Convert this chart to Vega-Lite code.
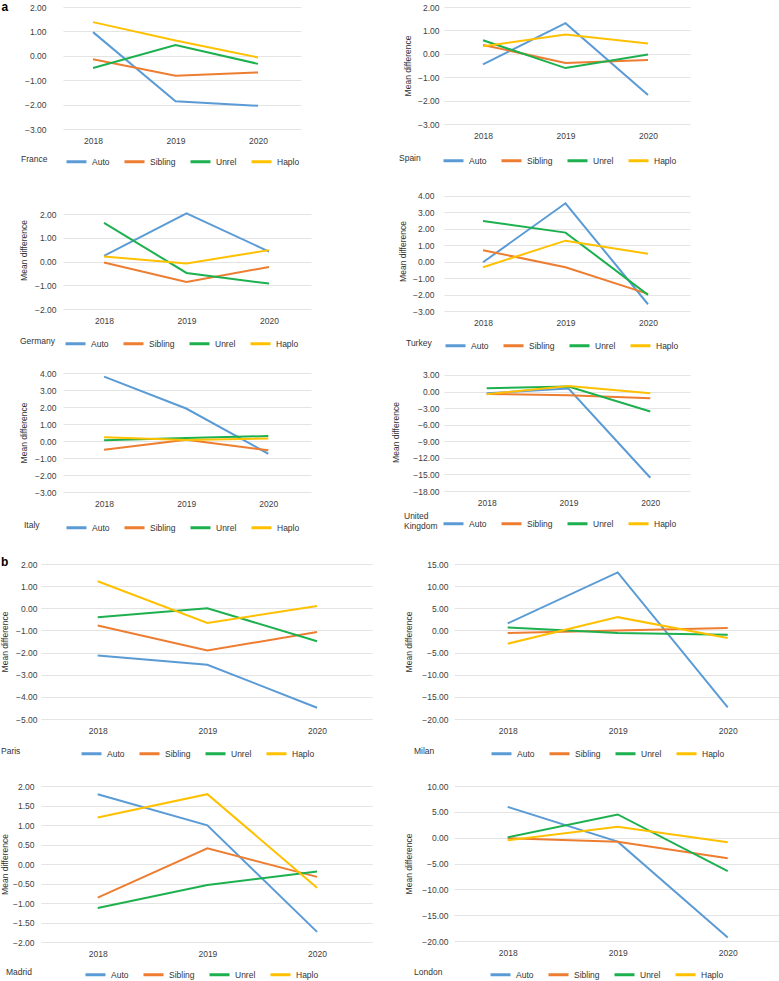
{
"$schema": "https://vega.github.io/schema/vega-lite/v6.json",
"padding": 0,
"data": {"name": "d"},
"datasets": {"d": [
{"p":"France","s":"Auto","yr":2018,"v":0.97},{"p":"France","s":"Auto","yr":2019,"v":-1.86},{"p":"France","s":"Auto","yr":2020,"v":-2.05},
{"p":"France","s":"Sibling","yr":2018,"v":-0.14},{"p":"France","s":"Sibling","yr":2019,"v":-0.82},{"p":"France","s":"Sibling","yr":2020,"v":-0.68},
{"p":"France","s":"Unrel","yr":2018,"v":-0.5},{"p":"France","s":"Unrel","yr":2019,"v":0.44},{"p":"France","s":"Unrel","yr":2020,"v":-0.33},
{"p":"France","s":"Haplo","yr":2018,"v":1.38},{"p":"France","s":"Haplo","yr":2019,"v":0.63},{"p":"France","s":"Haplo","yr":2020,"v":-0.07},
{"p":"Spain","s":"Auto","yr":2018,"v":-0.45},{"p":"Spain","s":"Auto","yr":2019,"v":1.31},{"p":"Spain","s":"Auto","yr":2020,"v":-1.76},
{"p":"Spain","s":"Sibling","yr":2018,"v":0.38},{"p":"Spain","s":"Sibling","yr":2019,"v":-0.39},{"p":"Spain","s":"Sibling","yr":2020,"v":-0.27},
{"p":"Spain","s":"Unrel","yr":2018,"v":0.58},{"p":"Spain","s":"Unrel","yr":2019,"v":-0.61},{"p":"Spain","s":"Unrel","yr":2020,"v":-0.03},
{"p":"Spain","s":"Haplo","yr":2018,"v":0.32},{"p":"Spain","s":"Haplo","yr":2019,"v":0.82},{"p":"Spain","s":"Haplo","yr":2020,"v":0.44},
{"p":"Germany","s":"Auto","yr":2018,"v":0.24},{"p":"Germany","s":"Auto","yr":2019,"v":2.03},{"p":"Germany","s":"Auto","yr":2020,"v":0.42},
{"p":"Germany","s":"Sibling","yr":2018,"v":-0.04},{"p":"Germany","s":"Sibling","yr":2019,"v":-0.86},{"p":"Germany","s":"Sibling","yr":2020,"v":-0.23},
{"p":"Germany","s":"Unrel","yr":2018,"v":1.63},{"p":"Germany","s":"Unrel","yr":2019,"v":-0.48},{"p":"Germany","s":"Unrel","yr":2020,"v":-0.93},
{"p":"Germany","s":"Haplo","yr":2018,"v":0.21},{"p":"Germany","s":"Haplo","yr":2019,"v":-0.08},{"p":"Germany","s":"Haplo","yr":2020,"v":0.48},
{"p":"Turkey","s":"Auto","yr":2018,"v":-0.04},{"p":"Turkey","s":"Auto","yr":2019,"v":3.54},{"p":"Turkey","s":"Auto","yr":2020,"v":-2.59},
{"p":"Turkey","s":"Sibling","yr":2018,"v":0.69},{"p":"Turkey","s":"Sibling","yr":2019,"v":-0.34},{"p":"Turkey","s":"Sibling","yr":2020,"v":-1.96},
{"p":"Turkey","s":"Unrel","yr":2018,"v":2.46},{"p":"Turkey","s":"Unrel","yr":2019,"v":1.76},{"p":"Turkey","s":"Unrel","yr":2020,"v":-2.02},
{"p":"Turkey","s":"Haplo","yr":2018,"v":-0.34},{"p":"Turkey","s":"Haplo","yr":2019,"v":1.27},{"p":"Turkey","s":"Haplo","yr":2020,"v":0.48},
{"p":"Italy","s":"Auto","yr":2018,"v":3.79},{"p":"Italy","s":"Auto","yr":2019,"v":1.91},{"p":"Italy","s":"Auto","yr":2020,"v":-0.75},
{"p":"Italy","s":"Sibling","yr":2018,"v":-0.51},{"p":"Italy","s":"Sibling","yr":2019,"v":0.08},{"p":"Italy","s":"Sibling","yr":2020,"v":-0.55},
{"p":"Italy","s":"Unrel","yr":2018,"v":0.04},{"p":"Italy","s":"Unrel","yr":2019,"v":0.18},{"p":"Italy","s":"Unrel","yr":2020,"v":0.29},
{"p":"Italy","s":"Haplo","yr":2018,"v":0.22},{"p":"Italy","s":"Haplo","yr":2019,"v":0.06},{"p":"Italy","s":"Haplo","yr":2020,"v":0.14},
{"p":"UK","s":"Auto","yr":2018,"v":-0.3},{"p":"UK","s":"Auto","yr":2019,"v":0.54},{"p":"UK","s":"Auto","yr":2020,"v":-15.6},
{"p":"UK","s":"Sibling","yr":2018,"v":-0.42},{"p":"UK","s":"Sibling","yr":2019,"v":-0.66},{"p":"UK","s":"Sibling","yr":2020,"v":-1.2},
{"p":"UK","s":"Unrel","yr":2018,"v":0.6},{"p":"UK","s":"Unrel","yr":2019,"v":0.9},{"p":"UK","s":"Unrel","yr":2020,"v":-3.6},
{"p":"UK","s":"Haplo","yr":2018,"v":-0.48},{"p":"UK","s":"Haplo","yr":2019,"v":1.02},{"p":"UK","s":"Haplo","yr":2020,"v":-0.3},
{"p":"Paris","s":"Auto","yr":2018,"v":-2.13},{"p":"Paris","s":"Auto","yr":2019,"v":-2.55},{"p":"Paris","s":"Auto","yr":2020,"v":-4.49},
{"p":"Paris","s":"Sibling","yr":2018,"v":-0.78},{"p":"Paris","s":"Sibling","yr":2019,"v":-1.91},{"p":"Paris","s":"Sibling","yr":2020,"v":-1.07},
{"p":"Paris","s":"Unrel","yr":2018,"v":-0.41},{"p":"Paris","s":"Unrel","yr":2019,"v":0.0},{"p":"Paris","s":"Unrel","yr":2020,"v":-1.49},
{"p":"Paris","s":"Haplo","yr":2018,"v":1.22},{"p":"Paris","s":"Haplo","yr":2019,"v":-0.66},{"p":"Paris","s":"Haplo","yr":2020,"v":0.1},
{"p":"Milan","s":"Auto","yr":2018,"v":1.58},{"p":"Milan","s":"Auto","yr":2019,"v":13.1},{"p":"Milan","s":"Auto","yr":2020,"v":-17.4},
{"p":"Milan","s":"Sibling","yr":2018,"v":-0.6},{"p":"Milan","s":"Sibling","yr":2019,"v":0.0},{"p":"Milan","s":"Sibling","yr":2020,"v":0.53},
{"p":"Milan","s":"Unrel","yr":2018,"v":0.68},{"p":"Milan","s":"Unrel","yr":2019,"v":-0.6},{"p":"Milan","s":"Unrel","yr":2020,"v":-0.98},
{"p":"Milan","s":"Haplo","yr":2018,"v":-3.0},{"p":"Milan","s":"Haplo","yr":2019,"v":3.0},{"p":"Milan","s":"Haplo","yr":2020,"v":-1.73},
{"p":"Madrid","s":"Auto","yr":2018,"v":1.79},{"p":"Madrid","s":"Auto","yr":2019,"v":0.99},{"p":"Madrid","s":"Auto","yr":2020,"v":-1.74},
{"p":"Madrid","s":"Sibling","yr":2018,"v":-0.86},{"p":"Madrid","s":"Sibling","yr":2019,"v":0.4},{"p":"Madrid","s":"Sibling","yr":2020,"v":-0.33},
{"p":"Madrid","s":"Unrel","yr":2018,"v":-1.13},{"p":"Madrid","s":"Unrel","yr":2019,"v":-0.54},{"p":"Madrid","s":"Unrel","yr":2020,"v":-0.19},
{"p":"Madrid","s":"Haplo","yr":2018,"v":1.19},{"p":"Madrid","s":"Haplo","yr":2019,"v":1.79},{"p":"Madrid","s":"Haplo","yr":2020,"v":-0.61},
{"p":"London","s":"Auto","yr":2018,"v":5.96},{"p":"London","s":"Auto","yr":2019,"v":-0.77},{"p":"London","s":"Auto","yr":2020,"v":-19.3},
{"p":"London","s":"Sibling","yr":2018,"v":-0.13},{"p":"London","s":"Sibling","yr":2019,"v":-0.77},{"p":"London","s":"Sibling","yr":2020,"v":-3.97},
{"p":"London","s":"Unrel","yr":2018,"v":0.06},{"p":"London","s":"Unrel","yr":2019,"v":4.49},{"p":"London","s":"Unrel","yr":2020,"v":-6.47},
{"p":"London","s":"Haplo","yr":2018,"v":-0.51},{"p":"London","s":"Haplo","yr":2019,"v":2.12},{"p":"London","s":"Haplo","yr":2020,"v":-0.9}
]},
"spacing": 22,
"resolve": {"scale": {"color": "independent"}, "legend": {"color": "independent"}},
"vconcat": [
{
 "columns": 2, "bounds": "flush",
 "spacing": {"row": 62, "column": 133},
 "resolve": {"scale": {"color": "independent"}, "legend": {"color": "independent"}},
 "concat": [
  {"width": 270, "height": 122,
   "transform": [{"filter": {"field": "p", "equal": "France"}}],
   "mark": {"type": "line", "strokeWidth": 2},
   "encoding": {
    "x": {"field": "yr", "type": "quantitative", "scale": {"domain": [2017.636, 2020.521], "range": [22, 260], "nice": false, "zero": false}, "axis": {"values": [2018, 2019, 2020], "format": "d", "title": null}},
    "y": {"field": "v", "type": "quantitative", "scale": {"domain": [-3, 2], "nice": false, "zero": false}, "axis": {"values": [-3, -2, -1, 0, 1, 2], "format": ".2f", "offset": -22, "labelPadding": 17, "title": "a", "titleAngle": 0, "titleX": -62, "titleY": 3, "titleAlign": "left", "titleBaseline": "alphabetic", "titleFontSize": 12, "titleFontWeight": "bold", "titleColor": "#000000"}},
    "color": {"field": "s", "type": "nominal", "scale": {"domain": ["Auto", "Sibling", "Unrel", "Haplo"], "range": ["#5B9BD5", "#ED7D31", "#1DB04F", "#FFC000"]}, "legend": {"title": "France", "legendX": -20, "legendY": 143, "titlePadding": 17}}
   }},
  {"width": 246, "height": 117,
   "transform": [{"filter": {"field": "p", "equal": "Spain"}}],
   "mark": {"type": "line", "strokeWidth": 2},
   "encoding": {
    "x": {"field": "yr", "type": "quantitative", "scale": {"domain": [2017.527, 2020.509], "nice": false, "zero": false}, "axis": {"values": [2018, 2019, 2020], "format": "d", "title": null}},
    "y": {"field": "v", "type": "quantitative", "scale": {"domain": [-3, 2], "nice": false, "zero": false}, "axis": {"values": [-3, -2, -1, 0, 1, 2], "format": ".2f", "title": "Mean difference", "labelPadding": 5, "titlePadding": 5}},
    "color": {"field": "s", "type": "nominal", "scale": {"domain": ["Auto", "Sibling", "Unrel", "Haplo"], "range": ["#5B9BD5", "#ED7D31", "#1DB04F", "#FFC000"]}, "legend": {"title": "Spain", "legendX": -45, "legendY": 142, "titlePadding": 21}}
   }},
  {"width": 270, "height": 118,
   "transform": [{"filter": {"field": "p", "equal": "Germany"}}],
   "mark": {"type": "line", "strokeWidth": 2},
   "encoding": {
    "x": {"field": "yr", "type": "quantitative", "scale": {"domain": [2017.503, 2020.509], "range": [22, 270], "nice": false, "zero": false}, "axis": {"values": [2018, 2019, 2020], "format": "d", "title": null}},
    "y": {"field": "v", "type": "quantitative", "scale": {"domain": [-2, 2.97], "nice": false, "zero": false}, "axis": {"values": [-2, -1, 0, 1, 2], "format": ".2f", "offset": -22, "title": "Mean difference", "labelPadding": 7, "titlePadding": 6}},
    "color": {"field": "s", "type": "nominal", "scale": {"domain": ["Auto", "Sibling", "Unrel", "Haplo"], "range": ["#5B9BD5", "#ED7D31", "#1DB04F", "#FFC000"]}, "legend": {"title": "Germany", "legendX": -21, "legendY": 141, "titlePadding": 9}}
   }},
  {"width": 246, "height": 120,
   "transform": [{"filter": {"field": "p", "equal": "Turkey"}}],
   "mark": {"type": "line", "strokeWidth": 2},
   "encoding": {
    "x": {"field": "yr", "type": "quantitative", "scale": {"domain": [2017.527, 2020.509], "nice": false, "zero": false}, "axis": {"values": [2018, 2019, 2020], "format": "d", "title": null}},
    "y": {"field": "v", "type": "quantitative", "scale": {"domain": [-3, 4.285], "nice": false, "zero": false}, "axis": {"values": [-3, -2, -1, 0, 1, 2, 3, 4], "format": ".2f", "title": "Mean difference", "labelPadding": 10, "titlePadding": 5}},
    "color": {"field": "s", "type": "nominal", "scale": {"domain": ["Auto", "Sibling", "Unrel", "Haplo"], "range": ["#5B9BD5", "#ED7D31", "#1DB04F", "#FFC000"]}, "legend": {"title": "Turkey", "legendX": -38, "legendY": 143, "titlePadding": 12}}
   }},
  {"width": 270, "height": 119,
   "transform": [{"filter": {"field": "p", "equal": "Italy"}}],
   "mark": {"type": "line", "strokeWidth": 2},
   "encoding": {
    "x": {"field": "yr", "type": "quantitative", "scale": {"domain": [2017.5, 2020.52], "range": [22, 270], "nice": false, "zero": false}, "axis": {"values": [2018, 2019, 2020], "format": "d", "title": null}},
    "y": {"field": "v", "type": "quantitative", "scale": {"domain": [-3, 4], "nice": false, "zero": false}, "axis": {"values": [-3, -2, -1, 0, 1, 2, 3, 4], "format": ".2f", "offset": -22, "title": "Mean difference", "labelPadding": 7, "titlePadding": 6}},
    "color": {"field": "s", "type": "nominal", "scale": {"domain": ["Auto", "Sibling", "Unrel", "Haplo"], "range": ["#5B9BD5", "#ED7D31", "#1DB04F", "#FFC000"]}, "legend": {"title": "Italy", "legendX": -17, "legendY": 143, "titlePadding": 25}}
   }},
  {"width": 246, "height": 118,
   "transform": [{"filter": {"field": "p", "equal": "UK"}}],
   "mark": {"type": "line", "strokeWidth": 2},
   "encoding": {
    "x": {"field": "yr", "type": "quantitative", "scale": {"domain": [2017.478, 2020.485], "nice": false, "zero": false}, "axis": {"values": [2018, 2019, 2020], "format": "d", "title": null}},
    "y": {"field": "v", "type": "quantitative", "scale": {"domain": [-18, 3.36], "nice": false, "zero": false}, "axis": {"values": [-18, -15, -12, -9, -6, -3, 0, 3], "format": ".2f", "title": "Mean difference", "labelPadding": 5, "titlePadding": 12}},
    "color": {"field": "s", "type": "nominal", "scale": {"domain": ["Auto", "Sibling", "Unrel", "Haplo"], "range": ["#5B9BD5", "#ED7D31", "#1DB04F", "#FFC000"]}, "legend": {"title": ["United", "Kingdom"], "titleLineHeight": 10, "legendX": -40, "legendY": 139, "titlePadding": 4}}
   }}
 ]
},
{
 "columns": 2, "bounds": "flush",
 "spacing": {"row": 67, "column": 82},
 "resolve": {"scale": {"color": "independent"}, "legend": {"color": "independent"}},
 "concat": [
  {"width": 331, "height": 155,
   "title": {"text": "b", "anchor": "start", "frame": "group", "fontSize": 12, "fontWeight": "bold", "color": "#000000", "dx": -40, "dy": 9, "offset": 0},
   "transform": [{"filter": {"field": "p", "equal": "Paris"}}],
   "mark": {"type": "line", "strokeWidth": 2},
   "encoding": {
    "x": {"field": "yr", "type": "quantitative", "scale": {"domain": [2017.483, 2020.501], "nice": false, "zero": false}, "axis": {"values": [2018, 2019, 2020], "format": "d", "title": null}},
    "y": {"field": "v", "type": "quantitative", "scale": {"domain": [-5, 2], "nice": false, "zero": false}, "axis": {"values": [-5, -4, -3, -2, -1, 0, 1, 2], "format": ".2f", "title": "Mean difference", "labelPadding": 4, "titlePadding": 6}},
    "color": {"field": "s", "type": "nominal", "scale": {"domain": ["Auto", "Sibling", "Unrel", "Haplo"], "range": ["#5B9BD5", "#ED7D31", "#1DB04F", "#FFC000"]}, "legend": {"title": "Paris", "legendX": -40, "legendY": 178, "titlePadding": 59}}
   }},
  {"width": 325, "height": 155,
   "transform": [{"filter": {"field": "p", "equal": "Milan"}}],
   "mark": {"type": "line", "strokeWidth": 2},
   "encoding": {
    "x": {"field": "yr", "type": "quantitative", "scale": {"domain": [2017.512, 2020.466], "nice": false, "zero": false}, "axis": {"values": [2018, 2019, 2020], "format": "d", "title": null}},
    "y": {"field": "v", "type": "quantitative", "scale": {"domain": [-20, 15], "nice": false, "zero": false}, "axis": {"values": [-20, -15, -10, -5, 0, 5, 10, 15], "format": ".2f", "title": "Mean difference", "labelPadding": 6, "titlePadding": 8}},
    "color": {"field": "s", "type": "nominal", "scale": {"domain": ["Auto", "Sibling", "Unrel", "Haplo"], "range": ["#5B9BD5", "#ED7D31", "#1DB04F", "#FFC000"]}, "legend": {"title": "Milan", "legendX": -40, "legendY": 178, "titlePadding": 55}}
   }},
  {"width": 331, "height": 156,
   "transform": [{"filter": {"field": "p", "equal": "Madrid"}}],
   "mark": {"type": "line", "strokeWidth": 2},
   "encoding": {
    "x": {"field": "yr", "type": "quantitative", "scale": {"domain": [2017.483, 2020.501], "nice": false, "zero": false}, "axis": {"values": [2018, 2019, 2020], "format": "d", "title": null}},
    "y": {"field": "v", "type": "quantitative", "scale": {"domain": [-2, 2], "nice": false, "zero": false}, "axis": {"values": [-2, -1.5, -1, -0.5, 0, 0.5, 1, 1.5, 2], "format": ".2f", "title": "Mean difference", "labelPadding": 7, "titlePadding": 3}},
    "color": {"field": "s", "type": "nominal", "scale": {"domain": ["Auto", "Sibling", "Unrel", "Haplo"], "range": ["#5B9BD5", "#ED7D31", "#1DB04F", "#FFC000"]}, "legend": {"title": "Madrid", "legendX": -35, "legendY": 177, "titlePadding": 52}}
   }},
  {"width": 325, "height": 155,
   "transform": [{"filter": {"field": "p", "equal": "London"}}],
   "mark": {"type": "line", "strokeWidth": 2},
   "encoding": {
    "x": {"field": "yr", "type": "quantitative", "scale": {"domain": [2017.512, 2020.466], "nice": false, "zero": false}, "axis": {"values": [2018, 2019, 2020], "format": "d", "title": null}},
    "y": {"field": "v", "type": "quantitative", "scale": {"domain": [-20, 10], "nice": false, "zero": false}, "axis": {"values": [-20, -15, -10, -5, 0, 5, 10], "format": ".2f", "title": "Mean difference", "labelPadding": 6, "titlePadding": 8}},
    "color": {"field": "s", "type": "nominal", "scale": {"domain": ["Auto", "Sibling", "Unrel", "Haplo"], "range": ["#5B9BD5", "#ED7D31", "#1DB04F", "#FFC000"]}, "legend": {"title": "London", "legendX": -40, "legendY": 177, "titlePadding": 46}}
   }}
 ]
}
],
"config": {
 "font": "Liberation Sans",
 "view": {"stroke": null},
 "axis": {"labelFont": "Liberation Sans", "labelFontSize": 8.5, "labelColor": "#404040", "titleFont": "Liberation Sans", "titleFontSize": 8.5, "titleFontWeight": "normal", "titleColor": "#333333", "domain": false, "ticks": false, "labelOverlap": false, "labelFlush": false, "gridColor": "#e4e4e4", "gridWidth": 1.2},
 "axisX": {"grid": false, "labelPadding": 7},
 "axisY": {"grid": true},
 "legend": {"orient": "none", "direction": "horizontal", "columns": 4, "titleOrient": "left", "titleFont": "Liberation Sans", "titleFontSize": 8.5, "titleFontWeight": "normal", "titleColor": "#333333", "labelFont": "Liberation Sans", "labelFontSize": 8.5, "labelColor": "#333333", "symbolType": "stroke", "symbolSize": 400, "symbolStrokeWidth": 3, "labelOffset": 4, "columnPadding": 8, "padding": 0}
}
}
